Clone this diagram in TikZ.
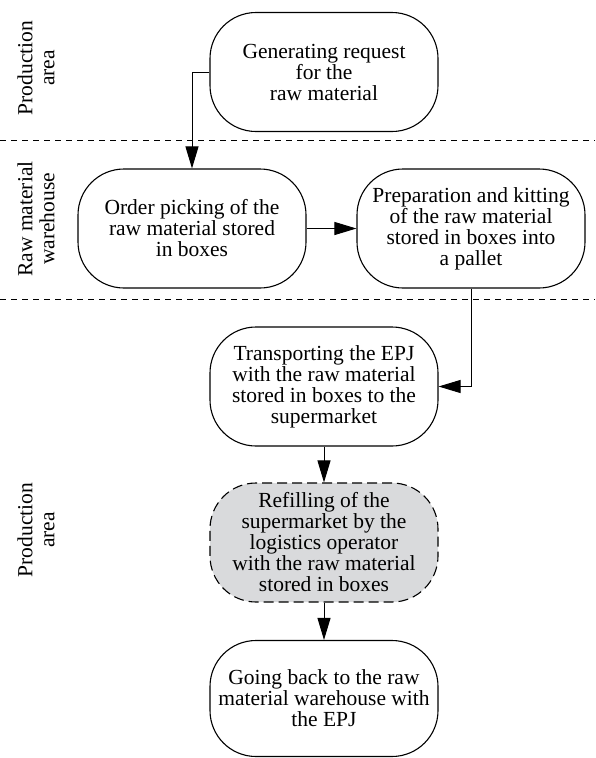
\documentclass[tikz,border=0pt]{standalone}
\usepackage{fontspec}
\setmainfont{Liberation Serif}
\usetikzlibrary{positioning, arrows.meta}
\definecolor{refillgray}{RGB}{217,218,220}

\begin{document}
\begin{tikzpicture}[x=1pt, y=-1pt,
    stage/.style={draw, line width=1.1pt, rounded corners=46pt,
      minimum width=228pt, minimum height=119pt, inner sep=2pt,
      align=center, font=\fontsize{21.5}{21}\selectfont},
    flow/.style={-{Triangle[length=22pt, width=13pt]}, line width=1pt},
    lane/.style={dash pattern=on 6pt off 5pt, line width=0.8pt},
    area/.style={rotate=90, align=center, font=\fontsize{21.5}{22}\selectfont}]
    \useasboundingbox (0,0) rectangle (595,758);
    \foreach \y in {140,299} {
      \draw[lane] (0,\y) -- (595,\y);
    }
    \node[area] (prodtop) at (36,68) {Production\\area};
    \node[area] (rawwh) at (36,219) {Raw material\\warehouse};
    \node[area] (prodbot) at (36,530) {Production\\area};
    \node[stage] (request) at (324,72) {Generating request\\for the\\raw material};
    \node[stage] (picking) at (192,228.5) {Order picking of the\\raw material stored\\in boxes};
    \node[stage] (kitting) at (471,228.5) {Preparation and kitting\\of the raw material\\stored in boxes into\\a pallet};
    \node[stage] (transport) at (324,386.5) {Transporting the EPJ\\with the raw material\\stored in boxes to the\\supermarket};
    \node[stage, fill=refillgray, dash pattern=on 10pt off 5pt] (refill) at (324,542.5)
      {Refilling of the\\supermarket by the\\logistics operator\\with the raw material\\stored in boxes};
    \node[stage, minimum height=116pt] (goback) at (324,698.5) {Going back to the raw\\material warehouse with\\the EPJ};
    \draw[flow] (request.west) -| (picking.north);
    \draw[flow] (picking) -- (kitting);
    \draw[flow] (kitting.south) |- (transport.east);
    \draw[flow] (transport) -- (refill);
    \draw[flow] (refill) -- (goback);
\end{tikzpicture}
\end{document}
